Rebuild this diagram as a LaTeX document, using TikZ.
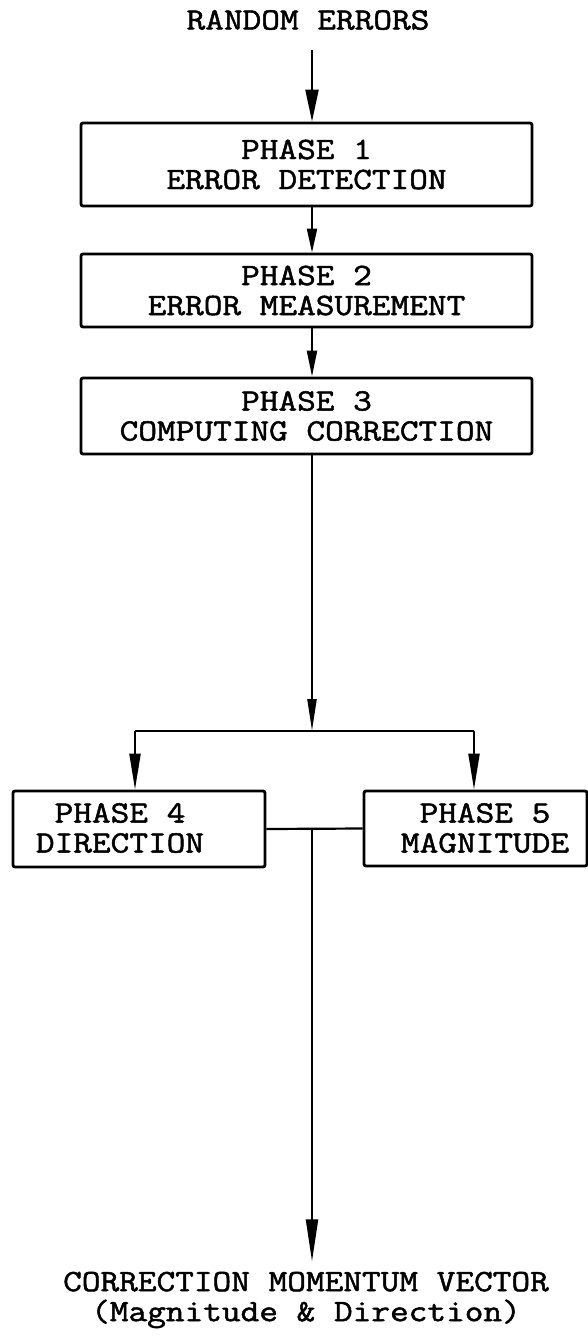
\documentclass[tikz,border=0pt]{standalone}
\usepackage{fontspec}
\usetikzlibrary{arrows.meta,calc}
\newfontfamily\tw[FakeStretch=1.17, FakeBold=1.6]{Latin Modern Mono}

\begin{document}
\begin{tikzpicture}[x=0.5pt,y=-0.5pt,
  every node/.style={font=\tw\fontsize{15.5}{15}\selectfont, align=center, inner sep=0pt},
  box/.style={draw, line width=1.4pt, rounded corners=1pt},
  wire/.style={line width=1.1pt},
  arr/.style 2 args={wire, -{Triangle[length=#1, width=#2]}}]

\useasboundingbox (0,0) rectangle (588,1337);

% main spine of the flow
\coordinate (spine) at (312,0);

% input label
\node (rand) at (308,20) {RANDOM ERRORS};

% sequential phases (sizes in pt: half the drawing units)
\node[box, minimum width=225.5pt, minimum height=41.5pt] (p1) at (306.5,164.5) {PHASE 1\\ERROR DETECTION};
\node[box, minimum width=225.5pt, minimum height=36.5pt] (p2) at (306.5,290.5) {PHASE 2\\ERROR MEASUREMENT};
\node[box, minimum width=225.5pt, minimum height=38pt] (p3) at (306.5,416) {PHASE 3\\COMPUTING CORRECTION};

% parallel phases
\node[box, minimum width=126pt, minimum height=38pt] (p4) at (139,829) {};
\node (p4t) at (120,828) {PHASE 4\\DIRECTION};
\node[box, minimum width=111.5pt, minimum height=37.5pt] (p5) at (475.5,828.5) {};
\node (p5t) at (485,828) {PHASE 5\\MAGNITUDE};

% output label
\node (out) at (306,1300) {CORRECTION MOMENTUM VECTOR\\(Magnitude \& Direction)};

% split points
\coordinate (split) at (312,731);
\coordinate (sl) at (135,731);
\coordinate (sr) at (474,731);

% connectors
\draw[arr={16pt}{6.5pt}, shorten <=10pt] (rand.south -| spine) -- (p1.north -| spine);
\draw[arr={12pt}{5pt}] (p1.south -| spine) -- (p2.north -| spine);
\draw[arr={13pt}{5pt}] (p2.south -| spine) -- (p3.north -| spine);
\draw[arr={16pt}{4.5pt}] (p3.south -| spine) -- (split);
\draw[wire] (sl) -- (sr);
\draw[arr={18pt}{5.5pt}] (sl) -- (sl |- p4.north);
\draw[arr={18pt}{5.5pt}] (sr) -- (sr |- p5.north);
\draw[wire] (p4.east) -- (p5.west);
\draw[arr={21pt}{6pt}, shorten >=5pt] (p4.east -| spine) -- (out.north -| spine);

\end{tikzpicture}
\end{document}
